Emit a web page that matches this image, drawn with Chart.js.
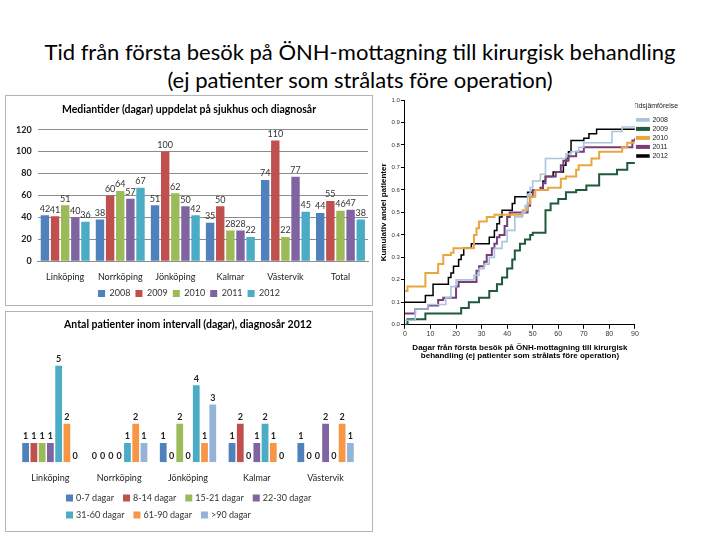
<!DOCTYPE html>
<html>
<head>
<meta charset="utf-8">
<script src="https://cdn.jsdelivr.net/npm/chart.js@4.4.1/dist/chart.umd.min.js"></script>
<style>
  body { margin:0; width:720px; height:540px; background:#fff; position:relative; overflow:hidden; font-family:Lato, "Open Sans", sans-serif; }
  #title { position:absolute; left:0; top:38px; width:720px; text-align:center; font-size:22px; line-height:28px; color:#000; }
  .frame { position:absolute; border:1px solid #b4b4b4; background:#fff; }
  #f1 { left:5px; top:95px; width:366px; height:209px; }
  #f2 { left:5px; top:311px; width:366px; height:219px; }
  #f3 { position:absolute; left:375px; top:88px; }
  canvas { display:block; }
</style>
</head>
<body>
<div id="title">Tid från första besök på ÖNH-mottagning till kirurgisk behandling<br>(ej patienter som strålats före operation)</div>
<div class="frame" id="f1"><canvas id="chart1" width="366" height="209"></canvas></div>
<div class="frame" id="f2"><canvas id="chart2" width="366" height="219"></canvas></div>
<div id="f3"><canvas id="chart3" width="345" height="272"></canvas></div>
<script>
// --- medianer per sjukhus och diagnosår
const hospitals = ["Linköping", "Norrköping", "Jönköping", "Kalmar", "Västervik", "Total"];
const years = ["2008", "2009", "2010", "2011", "2012"];
const median2008 = [42, 38, 51, 35, 74, 44];
const median2009 = [41, 60, 100, 50, 110, 55];
const median2010 = [51, 64, 62, 28, 22, 46];
const median2011 = [40, 57, 50, 28, 77, 47];
const median2012 = [36, 67, 42, 22, 45, 38];
const medianTicks = [0, 20, 40, 60, 80, 100, 120];

// --- antal patienter per intervall 2012
const hospitals2012 = ["Linköping", "Norrköping", "Jönköping", "Kalmar", "Västervik"];
const intervals = ["0-7 dagar", "8-14 dagar", "15-21 dagar", "22-30 dagar", "31-60 dagar", "61-90 dagar", ">90 dagar"];
const n0_7   = [1, 0, 1, 1, 1];
const n8_14  = [1, 0, 0, 2, 0];
const n15_21 = [1, 0, 2, 0, 0];
const n22_30 = [1, 0, 0, 1, 2];
const n31_60 = [5, 1, 4, 2, 0];
const n61_90 = [2, 2, 1, 1, 2];
const n90    = [0, 1, 3, 0, 1];

// --- kumulativ andel (trappkurvor)
const days2008  = [0, 4, 9, 16, 18, 20, 27, 29, 31, 33, 35, 38, 40, 43, 46, 47, 48, 49, 50, 53, 55, 63, 65, 68, 70, 81, 85, 90];
const share2008 = [0.02, 0.07, 0.09, 0.12, 0.17, 0.20, 0.22, 0.25, 0.27, 0.30, 0.34, 0.37, 0.42, 0.48, 0.50, 0.53, 0.58, 0.61, 0.64, 0.67, 0.74, 0.76, 0.77, 0.79, 0.81, 0.86, 0.88, 0.88];
const days2009  = [0, 1, 8, 22, 25, 29, 33, 36, 38, 40, 42, 43, 45, 47, 49, 50, 55, 57, 60, 63, 67, 71, 76, 83, 87, 90];
const share2009 = [0.0, 0.025, 0.05, 0.075, 0.10, 0.12, 0.15, 0.18, 0.21, 0.25, 0.29, 0.33, 0.36, 0.38, 0.40, 0.41, 0.51, 0.54, 0.56, 0.59, 0.60, 0.62, 0.67, 0.69, 0.72, 0.72];
const days2010  = [0, 1, 8, 13, 15, 18, 19, 27, 28, 29, 32, 35, 46, 48, 49, 51, 56, 61, 63, 67, 68, 73, 76, 85, 87, 90];
const share2010 = [0.15, 0.17, 0.23, 0.27, 0.31, 0.32, 0.34, 0.40, 0.43, 0.46, 0.48, 0.49, 0.51, 0.54, 0.57, 0.60, 0.61, 0.65, 0.66, 0.69, 0.71, 0.74, 0.77, 0.79, 0.81, 0.81];
const days2011  = [0, 4, 9, 13, 15, 20, 21, 28, 29, 31, 32, 34, 35, 36, 37, 39, 40, 41, 48, 49, 50, 53, 54, 55, 59, 61, 62, 64, 67, 70, 89, 90];
const share2011 = [0.05, 0.07, 0.086, 0.11, 0.12, 0.17, 0.19, 0.24, 0.26, 0.28, 0.31, 0.34, 0.36, 0.39, 0.40, 0.44, 0.48, 0.50, 0.53, 0.57, 0.60, 0.61, 0.63, 0.66, 0.68, 0.71, 0.73, 0.75, 0.77, 0.79, 0.82, 0.83];
const days2012  = [0, 8, 11, 17, 18, 19, 21, 22, 23, 26, 33, 35, 36, 37, 38, 42, 43, 48, 50, 54, 55, 58, 62, 63, 64, 65, 70, 72, 75, 90];
const share2012 = [0.10, 0.13, 0.18, 0.21, 0.23, 0.26, 0.29, 0.31, 0.34, 0.36, 0.39, 0.42, 0.45, 0.48, 0.51, 0.54, 0.57, 0.59, 0.60, 0.64, 0.66, 0.68, 0.71, 0.74, 0.77, 0.82, 0.83, 0.85, 0.87, 0.87];
const shareTicks = [0, 0.1, 0.2, 0.3, 0.4, 0.5, 0.6, 0.7, 0.8, 0.9, 1.0];

const xlColors = ['#4F81BD', '#C0504D', '#9BBB59', '#8064A2', '#4BACC6', '#F79646', '#95B3D7'];

// skriver värdet ovanför varje stapel
const valueLabels = {
  id: 'valueLabels',
  afterDatasetsDraw(chart, args, opts) {
    const ctx = chart.ctx;
    ctx.save();
    ctx.font = opts.font;
    ctx.fillStyle = opts.color;
    ctx.textAlign = 'center';
    ctx.textBaseline = 'bottom';
    chart.data.datasets.forEach((ds, i) => {
      chart.getDatasetMeta(i).data.forEach((bar, j) => {
        ctx.fillText(ds.data[j], bar.x, bar.y - 2);
      });
    });
    ctx.restore();
  }
};

// legend i två rader, vänsterjusterad (som i Excel)
const rowLegend = {
  id: 'rowLegend',
  afterDraw(chart, args, opts) {
    if (!opts.rows) return;
    const ctx = chart.ctx;
    ctx.save();
    ctx.font = opts.font;
    ctx.textBaseline = 'middle';
    opts.rows.forEach((row, r) => {
      let x = opts.x;
      const y = opts.y + r * opts.lineHeight;
      row.forEach(i => {
        const ds = chart.data.datasets[i];
        ctx.fillStyle = ds.backgroundColor;
        ctx.fillRect(x, y - 3.5, 7, 7);
        ctx.fillStyle = '#333';
        ctx.fillText(ds.label, x + 10, y);
        x += 10 + ctx.measureText(ds.label).width + opts.gap;
      });
    });
    ctx.restore();
  }
};

const font = 'Lato, "Open Sans", sans-serif';

new Chart(document.getElementById('chart1'), {
  type: 'bar',
  data: {
    labels: hospitals,
    datasets: [median2008, median2009, median2010, median2011, median2012].map((d, i) => ({
      label: years[i], data: d, backgroundColor: xlColors[i],
      categoryPercentage: 0.92, barPercentage: 0.83
    }))
  },
  options: {
    responsive: false, animation: false, devicePixelRatio: 1,
    layout: { padding: { left: 4, right: 4, top: 2, bottom: -3 } },
    scales: {
      y: {
        min: 0, max: 120,
        afterBuildTicks: s => { s.ticks = medianTicks.map(v => ({ value: v })); },
        ticks: { color: '#222', font: { family: font, size: 9, weight: 'bold' }, padding: 6 },
        grid: { color: '#8c8c8c', lineWidth: 1, drawTicks: false },
        border: { display: false }
      },
      x: {
        ticks: { color: '#222', font: { family: font, size: 9 }, padding: 2 },
        grid: { display: false },
        border: { color: '#8c8c8c' }
      }
    },
    plugins: {
      title: { display: true, text: 'Mediantider (dagar) uppdelat på sjukhus och diagnosår',
               color: '#000', font: { family: font, size: 10.5, weight: 'bold' }, padding: { top: 5, bottom: 14 } },
      legend: { position: 'bottom', labels: { boxWidth: 7, boxHeight: 7, padding: 5, color: '#333',
                font: { family: font, size: 9 } } },
      tooltip: { enabled: false },
      valueLabels: { font: '9px ' + font, color: '#333' }
    }
  },
  plugins: [valueLabels]
});

new Chart(document.getElementById('chart2'), {
  type: 'bar',
  data: {
    labels: hospitals2012,
    datasets: [n0_7, n8_14, n15_21, n22_30, n31_60, n61_90, n90].map((d, i) => ({
      label: intervals[i], data: d, backgroundColor: xlColors[i],
      categoryPercentage: 0.84, barPercentage: 0.82
    }))
  },
  options: {
    responsive: false, animation: false, devicePixelRatio: 1,
    layout: { padding: { left: 10, right: 12, top: 0, bottom: 46 } },
    scales: {
      y: { min: 0, max: 6, display: false },
      x: {
        ticks: { color: '#222', font: { family: font, size: 9 }, padding: 2 },
        grid: { display: false },
        border: { display: false }
      }
    },
    plugins: {
      title: { display: true, text: 'Antal patienter inom intervall (dagar), diagnosår 2012',
               color: '#000', font: { family: font, size: 10.5, weight: 'bold' }, padding: { top: 6, bottom: 16 } },
      legend: { display: false },
      tooltip: { enabled: false },
      valueLabels: { font: 'bold 9px ' + font, color: '#222' },
      rowLegend: { rows: [[0, 1, 2, 3], [4, 5, 6]], x: 60, y: 186, lineHeight: 17, gap: 9, font: '9px ' + font }
    }
  },
  plugins: [valueLabels, rowLegend]
});

const steps = (days, vals) => days.map((d, i) => ({ x: d, y: vals[i] }));
const sans = '"Liberation Sans", Arial, sans-serif';

new Chart(document.getElementById('chart3'), {
  type: 'line',
  data: {
    datasets: [
      { label: '2008', data: steps(days2008, share2008), borderColor: '#A9C5DD', borderWidth: 1.6 },
      { label: '2009', data: steps(days2009, share2009), borderColor: '#1E5A3C', borderWidth: 2 },
      { label: '2010', data: steps(days2010, share2010), borderColor: '#E9A63E', borderWidth: 2 },
      { label: '2011', data: steps(days2011, share2011), borderColor: '#7A3D7C', borderWidth: 2 },
      { label: '2012', data: steps(days2012, share2012), borderColor: '#000000', borderWidth: 1.5 }
    ].map(d => Object.assign(d, { stepped: 'before', pointRadius: 0, fill: false, backgroundColor: d.borderColor }))
  },
  options: {
    responsive: false, animation: false, devicePixelRatio: 1,
    layout: { padding: { left: 2, right: 42, top: 12, bottom: 0 } },
    scales: {
      x: {
        type: 'linear', min: 0, max: 90,
        ticks: { stepSize: 10, color: '#333', font: { family: sans, size: 7 }, padding: 1 },
        grid: { drawOnChartArea: false, color: '#000', tickLength: 4 },
        border: { color: '#000' },
        title: { display: true, color: '#000', padding: { top: 4, bottom: 0 },
                 font: { family: sans, size: 8, weight: 'bold', lineHeight: 1.05 },
                 text: ['Dagar från första besök på ÖNH-mottagning till kirurgisk',
                        'behandling (ej patienter som strålats före operation)'] }
      },
      y: {
        min: 0, max: 1,
        afterBuildTicks: s => { s.ticks = shareTicks.map(v => ({ value: v })); },
        ticks: { color: '#333', font: { family: sans, size: 6 }, padding: 1, callback: v => v.toFixed(1) },
        grid: { drawOnChartArea: false, color: '#000', tickLength: 4 },
        border: { color: '#000' },
        title: { display: true, text: 'Kumulativ andel patienter', color: '#000',
                 font: { family: sans, size: 8, weight: 'bold' }, padding: 2 }
      }
    },
    plugins: {
      legend: {
        position: 'right', align: 'start',
        title: { display: true, text: 'Tidsjämförelse:', color: '#222', font: { family: sans, size: 7 }, padding: 3 },
        labels: { boxWidth: 12, boxHeight: 2, padding: 2, color: '#222', font: { family: sans, size: 7 } }
      },
      tooltip: { enabled: false }
    }
  }
});
</script>
</body>
</html>
